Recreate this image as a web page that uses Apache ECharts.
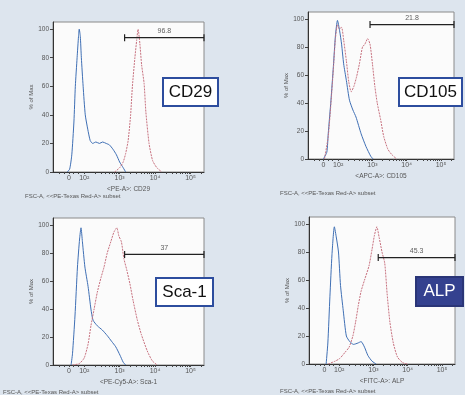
<!DOCTYPE html>
<html>
<head>
    <meta charset="utf-8">
    <script src="https://cdn.jsdelivr.net/npm/echarts@6/dist/echarts.min.js"></script>
    <style>
        html, body { margin: 0; padding: 0; background: #dde5ee; }
        #main { width: 465px; height: 395px; }
    </style>
</head>
<body>
<div id="main"></div>
<script>
    // x values are in decade units: 2 -> 10^2, 3 -> 10^3 ...
    var xTickValues = [1.57, 2, 3, 4, 5];
    var xTickLabels = ['0', '10²', '10³', '10⁴', '10⁵'];
    var yMax = 105;

    // CD29
    var cd29Blue = [[1.52,0],[1.59,2],[1.65,12],[1.71,35],[1.75,60],[1.80,80],[1.84,95],[1.86,100],[1.89,95],[1.92,80],[1.97,60],[2.03,40],[2.10,30],[2.17,22],[2.24,20],[2.33,21],[2.43,20],[2.52,21],[2.62,20],[2.71,19],[2.81,16],[2.91,12],[3.00,7],[3.10,3],[3.17,0]];
    var cd29Red = [[2.86,0],[3.00,3],[3.10,7],[3.17,13],[3.24,22],[3.31,40],[3.36,60],[3.43,80],[3.48,92],[3.52,100],[3.57,90],[3.62,75],[3.69,62],[3.74,42],[3.83,20],[3.93,8],[4.05,3],[4.19,0]];
    var cd29Gate = [3.14, 5.38, 94, '96.8'];

    // CD105
    var cd105Blue = [[1.57,0],[1.67,5],[1.71,18],[1.79,42],[1.86,66],[1.92,88],[1.98,99],[2.04,92],[2.10,82],[2.16,68],[2.24,56],[2.33,42],[2.43,35],[2.52,30],[2.67,18],[2.81,9],[2.95,2],[3.02,0]];
    var cd105Red = [[1.60,0],[1.71,16],[1.79,40],[1.86,64],[1.92,86],[1.98,96],[2.03,93],[2.10,94],[2.16,85],[2.24,70],[2.31,55],[2.38,48],[2.46,52],[2.54,59],[2.62,68],[2.71,80],[2.78,82],[2.86,86],[2.93,82],[3.00,68],[3.07,52],[3.14,40],[3.24,28],[3.33,16],[3.45,7],[3.57,3],[3.71,0]];
    var cd105Gate = [2.93, 5.38, 96, '21.8'];

    // Sca-1
    var sca1Blue = [[1.63,0],[1.67,8],[1.74,35],[1.81,70],[1.87,90],[1.91,98],[1.95,88],[2.02,70],[2.11,56],[2.19,40],[2.25,32],[2.37,28],[2.51,25],[2.65,21],[2.77,17],[2.89,13],[3.01,7],[3.10,2],[3.17,0]];
    var sca1Red = [[1.67,0],[1.86,1],[2.00,5],[2.11,15],[2.19,28],[2.28,40],[2.37,52],[2.47,62],[2.56,70],[2.65,80],[2.75,88],[2.84,95],[2.92,98],[2.98,92],[3.05,88],[3.12,76],[3.20,68],[3.29,58],[3.38,46],[3.50,32],[3.61,22],[3.78,10],[3.92,3],[4.06,0]];
    var sca1Gate = [3.14, 5.38, 79, '37'];

    // ALP
    var alpBlue = [[1.62,0],[1.67,15],[1.73,48],[1.79,78],[1.86,98],[1.92,90],[1.98,80],[2.04,56],[2.12,38],[2.21,20],[2.31,16],[2.42,14],[2.55,15],[2.64,16],[2.74,12],[2.84,6],[2.96,2],[3.08,0]];
    var alpRed = [[1.68,0],[1.88,2],[2.02,4],[2.16,8],[2.29,12],[2.40,20],[2.48,30],[2.56,42],[2.64,52],[2.74,60],[2.87,70],[2.96,82],[3.03,92],[3.10,98],[3.17,90],[3.25,80],[3.33,72],[3.40,50],[3.48,30],[3.58,15],[3.70,5],[3.85,1],[3.99,0]];
    var alpGate = [3.14, 5.38, 76, '45.3'];

    var panels = [
        { blue: cd29Blue, red: cd29Red, gate: cd29Gate, xName: '<PE-A>: CD29', tag: 'CD29',
          grid: [53, 22, 151, 150], box: [163, 78, 55, 28], sub: [25, 196], dark: false },
        { blue: cd105Blue, red: cd105Red, gate: cd105Gate, xName: '<APC-A>: CD105', tag: 'CD105',
          grid: [308, 12, 146, 147], box: [399, 78, 63, 28], sub: [280, 193], dark: false },
        { blue: sca1Blue, red: sca1Red, gate: sca1Gate, xName: '<PE-Cy5-A>: Sca-1', tag: 'Sca-1',
          grid: [53, 218, 151, 147], box: [156, 278, 57, 28], sub: [3, 392], dark: false },
        { blue: alpBlue, red: alpRed, gate: alpGate, xName: '<FITC-A>: ALP', tag: 'ALP',
          grid: [309, 217, 146, 147], box: [416, 277, 47, 29], sub: [280, 391], dark: true }
    ];

    // minor ticks on the biexponential axis
    var minorTicks = [1.3, 1.45, 1.57, 1.7, 1.82];
    for (var d = 2; d <= 5; d++) {
        for (var k = 1; k <= 9; k++) {
            var v = d + Math.log10(k);
            if (v < 5.38) minorTicks.push(v);
        }
    }

    var grids = [], xAxes = [], yAxes = [], series = [], graphics = [];
    panels.forEach(function (p, i) {
        grids.push({
            left: p.grid[0], top: p.grid[1], width: p.grid[2], height: p.grid[3],
            show: true, backgroundColor: '#fbfbfb', borderColor: '#8a8a8a', borderWidth: 1
        });
        xAxes.push({
            gridIndex: i, type: 'value', min: 1.12, max: 5.38,
            name: p.xName, nameLocation: 'middle', nameGap: 14,
            nameTextStyle: { fontSize: 6.5, color: '#555', fontFamily: 'Liberation Sans' },
            axisLine: { lineStyle: { color: '#333' } },
            axisTick: { customValues: minorTicks, length: 2, lineStyle: { color: '#444' } },
            axisLabel: {
                customValues: xTickValues, fontSize: 7, color: '#555', margin: 3,
                fontFamily: 'Liberation Sans',
                formatter: function (val) {
                    var idx = xTickValues.indexOf(val);
                    return idx >= 0 ? xTickLabels[idx] : '';
                }
            },
            splitLine: { show: false }
        });
        yAxes.push({
            gridIndex: i, type: 'value', min: 0, max: yMax, interval: 20,
            name: '% of Max', nameLocation: 'middle', nameGap: 17,
            nameTextStyle: { fontSize: 6, color: '#555', fontFamily: 'Liberation Sans' },
            axisLine: { show: true, lineStyle: { color: '#333' } },
            axisTick: { show: true, length: 3, lineStyle: { color: '#444' } },
            axisLabel: { fontSize: 6.5, color: '#555', margin: 4, showMaxLabel: false, fontFamily: 'Liberation Sans' },
            splitLine: { show: false }
        });
        series.push({
            type: 'line', xAxisIndex: i, yAxisIndex: i, data: p.blue,
            symbol: 'none', smooth: 0.2, silent: true,
            lineStyle: { color: '#3f6fb4', width: 1 }
        });
        series.push({
            type: 'line', xAxisIndex: i, yAxisIndex: i, data: p.red,
            symbol: 'none', smooth: 0.2, silent: true,
            lineStyle: { color: '#c7717f', width: 1, type: [2, 1] }
        });
        var g = p.gate;
        series.push({
            type: 'line', xAxisIndex: i, yAxisIndex: i, symbol: 'none', silent: true,
            data: [[g[0], g[2] - 2.5], [g[0], g[2] + 2.5], [g[0], g[2]], [g[1], g[2]], [g[1], g[2] + 2.5], [g[1], g[2] - 2.5]],
            lineStyle: { color: '#222', width: 1.2 }
        });
        series.push({
            type: 'scatter', xAxisIndex: i, yAxisIndex: i, symbolSize: 0, silent: true,
            data: [[(g[0] + g[1]) / 2, g[2]]],
            label: { show: true, position: 'top', distance: 3, formatter: g[3], fontSize: 7, color: '#333', fontFamily: 'Liberation Sans' }
        });
        graphics.push({
            type: 'rect', shape: { x: p.box[0], y: p.box[1], width: p.box[2], height: p.box[3] },
            style: { fill: p.dark ? '#34418f' : '#ffffff', stroke: p.dark ? '#2a3577' : '#2d4d9e', lineWidth: 2 }
        });
        graphics.push({
            type: 'text', x: p.box[0] + p.box[2] / 2, y: p.box[1] + p.box[3] / 2,
            style: { text: p.tag, fontSize: 17, fontFamily: 'Liberation Sans', fill: p.dark ? '#ffffff' : '#111111',
                     textAlign: 'center', textVerticalAlign: 'middle' }
        });
        graphics.push({
            type: 'text', x: p.sub[0], y: p.sub[1],
            style: { text: 'FSC-A, <<PE-Texas Red-A> subset', fontSize: 6, fontFamily: 'Liberation Sans',
                     fill: '#555', textVerticalAlign: 'middle' }
        });
    });

    var chart = echarts.init(document.getElementById('main'));
    chart.setOption({
        backgroundColor: '#dde5ee',
        animation: false,
        grid: grids,
        xAxis: xAxes,
        yAxis: yAxes,
        series: series,
        graphic: graphics
    });
</script>
</body>
</html>
